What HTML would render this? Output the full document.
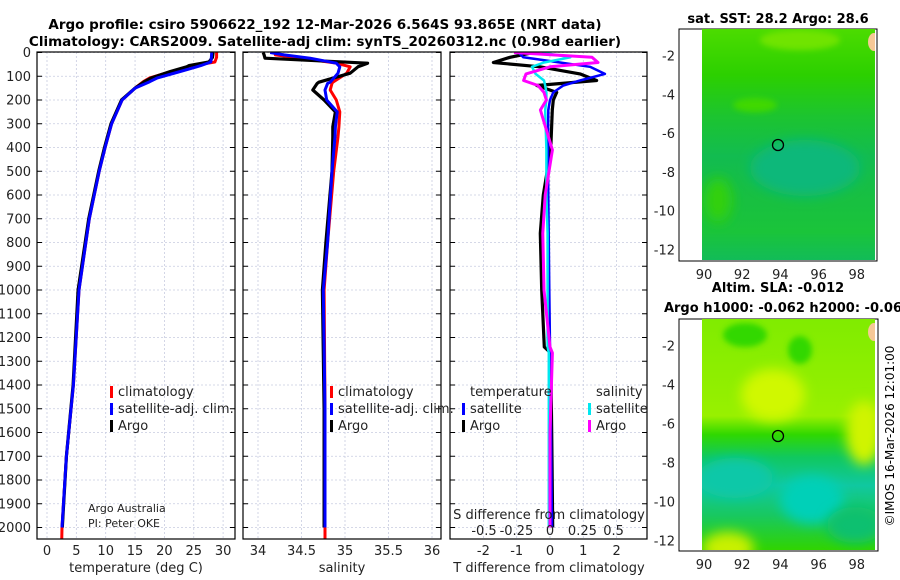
<!DOCTYPE html>
<html><head><meta charset="utf-8">
<style>
html,body{margin:0;padding:0;background:#fff;}
svg{display:block;font-family:"DejaVu Sans","Liberation Sans",sans-serif;}
</style></head>
<body>
<svg id="fig" width="900" height="580" viewBox="0 0 900 580" xmlns="http://www.w3.org/2000/svg">
<defs>
<filter id="blur6" x="-50%" y="-50%" width="200%" height="200%"><feGaussianBlur stdDeviation="6"/></filter>
<filter id="blur3" x="-50%" y="-50%" width="200%" height="200%"><feGaussianBlur stdDeviation="3"/></filter>
<clipPath id="clip1"><rect x="37" y="52" width="198" height="487"/></clipPath>
<clipPath id="clip2"><rect x="243" y="52" width="198" height="487"/></clipPath>
<clipPath id="clip3"><rect x="450" y="52" width="197" height="487"/></clipPath>
<clipPath id="clipm1"><rect x="702" y="29" width="173" height="231"/></clipPath>
<clipPath id="clipm2"><rect x="702" y="319" width="173" height="231"/></clipPath>
<linearGradient id="sstg" x1="0" y1="0" x2="0" y2="1">
<stop offset="0" stop-color="#4cdc00"/><stop offset="0.2" stop-color="#2cd000"/>
<stop offset="0.38" stop-color="#1cc430"/><stop offset="0.55" stop-color="#12bc50"/>
<stop offset="0.75" stop-color="#18c040"/><stop offset="0.88" stop-color="#1ac43a"/>
<stop offset="1" stop-color="#12bc58"/></linearGradient>
<linearGradient id="slag" x1="0" y1="0" x2="0" y2="1">
<stop offset="0" stop-color="#80ec00"/><stop offset="0.42" stop-color="#98f000"/>
<stop offset="0.5" stop-color="#30d800"/><stop offset="0.6" stop-color="#10c860"/>
<stop offset="0.72" stop-color="#10c8a0"/><stop offset="0.85" stop-color="#18c860"/>
<stop offset="1" stop-color="#30d400"/></linearGradient>
</defs>
<text x="325" y="29" font-size="13.5" font-weight="bold" text-anchor="middle">Argo profile: csiro 5906622_192 12-Mar-2026 6.564S 93.865E (NRT data)</text>
<text x="325" y="46" font-size="13.5" font-weight="bold" text-anchor="middle">Climatology: CARS2009. Satellite-adj clim: synTS_20260312.nc (0.98d earlier)</text>
<g id="g"></g>
<!-- maps -->
<g>
<rect x="679" y="29" width="198" height="232" fill="#fff" stroke="#000" stroke-width="1"/>
<g clip-path="url(#clipm1)">
<rect x="702" y="29" width="173" height="231" fill="url(#sstg)"/>
<ellipse cx="800" cy="40" rx="40" ry="10" fill="#70e400" filter="url(#blur3)"/>
<ellipse cx="755" cy="105" rx="22" ry="7" fill="#40d800" filter="url(#blur3)"/>
<ellipse cx="805" cy="168" rx="55" ry="28" fill="#0cb87a" filter="url(#blur6)"/>
<ellipse cx="718" cy="200" rx="14" ry="22" fill="#30d010" filter="url(#blur6)"/>
<ellipse cx="874" cy="42" rx="6" ry="9" fill="#f6c896"/>
</g>
<circle cx="778" cy="145" r="5.5" fill="none" stroke="#000" stroke-width="1.3"/>
<text x="778" y="23" font-size="13" font-weight="bold" text-anchor="middle">sat. SST: 28.2 Argo: 28.6</text>
</g>
<g>
<rect x="679" y="319" width="199" height="232" fill="#fff" stroke="#000" stroke-width="1"/>
<g clip-path="url(#clipm2)">
<rect x="702" y="319" width="173" height="231" fill="url(#slag)"/>
<ellipse cx="745" cy="335" rx="22" ry="12" fill="#30d800" filter="url(#blur3)"/>
<ellipse cx="800" cy="350" rx="12" ry="14" fill="#30d800" filter="url(#blur3)"/>
<ellipse cx="773" cy="395" rx="32" ry="26" fill="#d0f800" filter="url(#blur6)"/>
<ellipse cx="864" cy="433" rx="18" ry="32" fill="#d0f400" filter="url(#blur6)"/>
<ellipse cx="735" cy="478" rx="38" ry="20" fill="#10c8a8" filter="url(#blur6)"/>
<ellipse cx="812" cy="500" rx="32" ry="24" fill="#00d0b8" filter="url(#blur6)"/>
<ellipse cx="855" cy="525" rx="28" ry="18" fill="#10c070" filter="url(#blur6)"/>
<ellipse cx="728" cy="548" rx="26" ry="16" fill="#c8f000" filter="url(#blur6)"/>
<ellipse cx="874" cy="332" rx="6" ry="9" fill="#f6c896"/>
</g>
<circle cx="778" cy="436" r="5.5" fill="none" stroke="#000" stroke-width="1.3"/>
<text x="778" y="292" font-size="13" font-weight="bold" text-anchor="middle">Altim. SLA: -0.012</text>
<text x="783" y="312" font-size="13" font-weight="bold" text-anchor="middle">Argo h1000: -0.062 h2000: -0.06</text>
</g>
<text transform="translate(894,436) rotate(-90)" font-size="12" text-anchor="middle">©IMOS 16-Mar-2026 12:01:00</text>
</svg>
<script>
// ---- data ----
const tDepth = [0,20,40,55,60,80,107,123,150,200,300,400,500,700,1000,1400,1700,2000];
const tClim  = [28.9,28.9,28.6,24.9,24.2,21.2,17.5,16.4,15.0,12.8,11.0,9.9,8.9,7.2,5.45,4.5,3.3,2.55];
const tSat   = [28.06,28.0,27.9,26.2,25.5,22.7,18.8,17.5,15.0,12.8,11.0,9.9,8.9,7.2,5.45,4.5,3.3,2.55];
const tArgo  = [28.3,28.2,27.6,24.2,23.8,21.0,17.8,16.6,15.0,12.7,10.9,9.8,8.8,7.1,5.3,4.45,3.3,2.6];

const sDepth = [0,10,24,45,60,87,125,130,158,200,250,313,355,500,800,1000,1500,2000];
const sClim  = [34.2,34.2,34.5,34.9,35.06,35.02,34.86,34.85,34.83,34.9,34.94,34.93,34.92,34.87,34.8,34.76,34.77,34.77];
const sSat   = [34.14,34.3,34.6,34.9,34.94,34.92,34.83,34.8,34.77,34.79,34.91,34.89,34.885,34.85,34.8,34.75,34.77,34.77];
const sArgo  = [34.06,34.07,34.08,35.26,35.15,35.06,34.7,34.68,34.63,34.76,34.89,34.86,34.86,34.85,34.78,34.74,34.76,34.76];

const dDepth = [0,20,42,60,90,118,139,168,200,242,410,600,761,1000,1240,1265,1600,2000];
const dTsat  = [-0.95,-0.8,0.3,1.2,1.65,0.9,0.4,0.1,0.0,-0.05,-0.06,-0.05,-0.04,-0.02,0.0,0.0,0.03,0.06];
const dTargo = [-0.5,-1.2,-1.7,-0.3,0.9,1.4,-0.4,0.2,0.1,0.07,0.02,-0.2,-0.29,-0.25,-0.17,0.02,0.05,0.08];
const dSsat  = [-0.07,0.17,-0.05,-0.15,-0.12,-0.05,-0.04,-0.03,-0.03,-0.04,-0.03,-0.03,-0.02,-0.02,-0.02,-0.01,-0.01,-0.01];
const dSargo = [-0.3,0.35,0.4,0.0,-0.2,-0.22,-0.1,-0.05,-0.03,-0.08,0.02,-0.04,-0.06,-0.05,0.0,0.02,0.0,0.0];

const depthTicks = [0,100,200,300,400,500,600,700,800,900,1000,1100,1200,1300,1400,1500,1600,1700,1800,1900,2000];
const tTicks = [0,5,10,15,20,25,30];
const sTicks = [34,34.5,35,35.5,36];
const sTickLabels = ["34","34.5","35","35.5","36"];
const dTicks = [-2,-1,0,1,2];
const sdTickLabels = ["-0.5","-0.25","0","0.25","0.5"];
const sdTickVals = [-0.55,-0.28,0,0.27,0.53];
const latTicks = [-2,-4,-6,-8,-10,-12];
const lonTicks = [90,92,94,96,98];

// ---- scales ----
const yD = d => 52.5 + d*0.2375;
const xT = v => 47 + v*5.87;
const xS = v => 258 + (v-34)*87;
const xDT = v => 550 + v*33.3;
const xDS = v => 550 + v*120;
const lat1 = v => 56 + (-2 - v)*19.4;
const lat2 = v => 346 + (-2 - v)*19.5;
const lonX = v => 704 + (v-90)*19.1;

const NS="http://www.w3.org/2000/svg";
const g=document.getElementById('g');
function el(tag,attrs,parent){const e=document.createElementNS(NS,tag);for(const k in attrs)e.setAttribute(k,attrs[k]);(parent||g).appendChild(e);return e;}
function txt(s,attrs,parent){const e=el('text',attrs,parent);e.textContent=s;return e;}

const panels=[{x0:37,x1:235,clip:'clip1',name:'temperature-panel'},{x0:243,x1:441,clip:'clip2',name:'salinity-panel'},{x0:450,x1:647,clip:'clip3',name:'difference-panel'}];
const pg=[];
panels.forEach((p,i)=>{
  const grp=el('g',{});
  
  
  pg.push(grp);
  depthTicks.forEach(d=>{
    const l=el('line',{x1:p.x0,x2:p.x1,y1:yD(d),y2:yD(d),stroke:'#c8cce0','stroke-width':0.8,'stroke-dasharray':'2,2'},grp);
    
    
  });
});
function vgrid(grp,xs){xs.forEach(x=>{const l=el('line',{x1:x,x2:x,y1:52,y2:539,stroke:'#c8cce0','stroke-width':0.8,'stroke-dasharray':'2,2'},grp);
  
  });}
vgrid(pg[0],tTicks.map(xT));
vgrid(pg[1],sTicks.map(xS));
vgrid(pg[2],dTicks.map(xDT));

function line(grp,clip,depths,vals,sx,color,w,name){
  const pts=depths.map((d,i)=>sx(vals[i]).toFixed(1)+','+yD(d).toFixed(1)).join(' ');
  const pl=el('polyline',{points:pts,fill:'none',stroke:color,'stroke-width':w,'stroke-linejoin':'round','clip-path':'url(#'+clip+')'},grp);
  
  
}
line(pg[0],'clip1',tDepth.concat([2060]),tClim.concat([2.5]),xT,'#ff0000',3,'temperature-climatology-line');
line(pg[0],'clip1',tDepth,tArgo,xT,'#000',3.2,'temperature-argo-line');
line(pg[0],'clip1',tDepth,tSat,xT,'#0000ff',3,'temperature-satellite-line');
line(pg[1],'clip2',sDepth.concat([2060]),sClim.concat([34.77]),xS,'#ff0000',3,'salinity-climatology-line');
line(pg[1],'clip2',sDepth,sArgo,xS,'#000',3.2,'salinity-argo-line');
line(pg[1],'clip2',sDepth,sSat,xS,'#0000ff',3,'salinity-satellite-line');
line(pg[2],'clip3',dDepth,dTargo,xDT,'#000',3.2,'t-diff-argo-line');
line(pg[2],'clip3',dDepth,dTsat,xDT,'#0000ff',2.5,'t-diff-satellite-line');
line(pg[2],'clip3',dDepth,dSsat,xDS,'#00e8f0',2.5,'s-diff-satellite-line');
line(pg[2],'clip3',dDepth,dSargo,xDS,'#ff00ff',3,'s-diff-argo-line');

panels.forEach((p,i)=>{
  const grp=pg[i];
  const r=el('rect',{x:p.x0,y:52,width:p.x1-p.x0,height:487,fill:'none',stroke:'#000','stroke-width':1.2},grp);
  
  
  depthTicks.forEach(d=>{
    el('line',{x1:p.x0,x2:p.x0+5,y1:yD(d),y2:yD(d),stroke:'#000','stroke-width':1},grp);
    el('line',{x1:p.x1-5,x2:p.x1,y1:yD(d),y2:yD(d),stroke:'#000','stroke-width':1},grp);
  });
});
depthTicks.forEach(d=>{
  const t=txt(String(d),{x:31,y:yD(d)+4.5,'font-size':13,'text-anchor':'end',fill:'#222'});
  
  
});
function xlabels(ticks,labels,sx,y,size){ticks.forEach((v,i)=>{const t=txt(labels[i],{x:sx(v),y:y,'font-size':size,'text-anchor':'middle',fill:'#222'});
  
  });}
xlabels(tTicks,tTicks.map(String),xT,555,13);
xlabels(sTicks,sTickLabels,xS,555,13);
xlabels(dTicks,dTicks.map(String),xDT,555,13);
xlabels(sdTickVals,sdTickLabels,xDS,535,13);

function label(s,x,y,name,anchor,size){const t=txt(s,{x:x,y:y,'font-size':size||13,'text-anchor':anchor||'middle',fill:'#222'});
  
  return t;}
label('temperature (deg C)',136,572,'x-axis-title-temperature');
label('salinity',342,572,'x-axis-title-salinity');
label('T difference from climatology',549,572,'x-axis-title-t-diff');
label('S difference from climatology',549,519,'s-diff-axis-title');
label('Argo Australia',88,512,'credit-argo-australia','start',11);
label('PI: Peter OKE',88,527,'credit-pi','start',11);

function legItem(x,y,color,s,name){
  const b=el('rect',{x:x,y:y-10,width:3,height:12,fill:color});
  
  
  label(s,x+8,y,name,'start',13);
}
legItem(110,396,'#ff0000','climatology','legend-climatology');
legItem(110,413,'#0000ff','satellite-adj. clim.','legend-satellite-adj');
legItem(110,430,'#000','Argo','legend-argo');
legItem(330,396,'#ff0000','climatology','legend2-climatology');
legItem(330,413,'#0000ff','satellite-adj. clim.','legend2-satellite-adj');
legItem(330,430,'#000','Argo','legend2-argo');
label('temperature',470,396,'legend-temperature-heading','start');
legItem(462,413,'#0000ff','satellite','legend-t-satellite');
legItem(462,430,'#000','Argo','legend-t-argo');
label('salinity',596,396,'legend-salinity-heading','start');
legItem(588,413,'#00e8f0','satellite','legend-s-satellite');
legItem(588,430,'#ff00ff','Argo','legend-s-argo');

function mapAxes(latF,top,bottom,ylab){
  latTicks.forEach(v=>{
    const y=latF(v);
    el('line',{x1:679,x2:683,y1:y,y2:y,stroke:'#000'});
    el('line',{x1:873,x2:877,y1:y,y2:y,stroke:'#000'});
    const t=txt(String(v),{x:675,y:y+4.5,'font-size':13,'text-anchor':'end',fill:'#222'});
    
    
  });
  lonTicks.forEach(v=>{
    const x=lonX(v);
    el('line',{x1:x,x2:x,y1:bottom-4,y2:bottom,stroke:'#000'});
    el('line',{x1:x,x2:x,y1:top,y2:top+4,stroke:'#000'});
    const t=txt(String(v),{x:x,y:ylab,'font-size':13,'text-anchor':'middle',fill:'#222'});
    
    
  });
}
mapAxes(lat1,29,261,279);
mapAxes(lat2,319,551,569);
</script>
</body></html>
